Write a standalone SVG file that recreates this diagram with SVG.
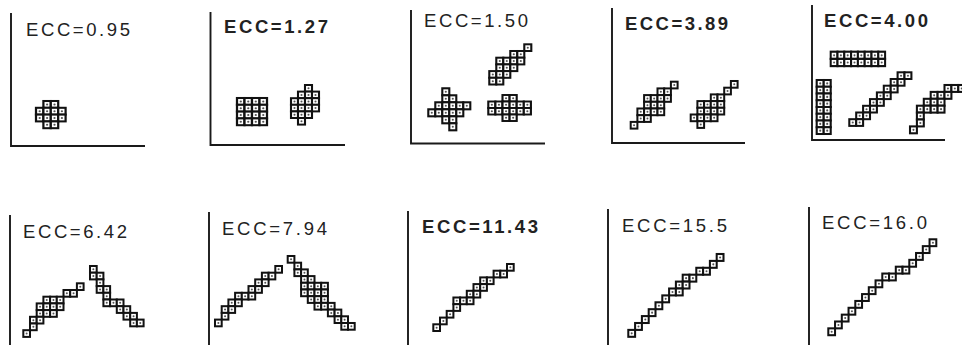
<svg xmlns="http://www.w3.org/2000/svg" xmlns:xlink="http://www.w3.org/1999/xlink" width="962" height="345" viewBox="0 0 962 345">
<style>
.ax{fill:none;stroke:#1a1a1a;stroke-width:1.9}
.lb{font-family:"Liberation Sans",Arial,sans-serif;font-size:18.5px;fill:#222}
.bd{font-weight:bold}
</style>
<defs>
<g id="c"><rect width="1" height="1" fill="#fff" stroke="#111" stroke-width="0.3"/><circle cx=".5" cy=".5" r=".15" fill="#555"/></g>
</defs>
<rect width="962" height="345" fill="#fff"/>

<g id="p1">
<path class="ax" d="M11,13 V146 H145"/>
<text class="lb" x="26" y="36" textLength="104" lengthAdjust="spacing">ECC=0.95</text>
<g transform="translate(36,101) scale(7.4,6.8)">
<use href="#c" x="1" y="0"/><use href="#c" x="2" y="0"/>
<use href="#c" x="0" y="1"/><use href="#c" x="1" y="1"/><use href="#c" x="2" y="1"/><use href="#c" x="3" y="1"/>
<use href="#c" x="0" y="2"/><use href="#c" x="1" y="2"/><use href="#c" x="2" y="2"/><use href="#c" x="3" y="2"/>
<use href="#c" x="1" y="3"/><use href="#c" x="2" y="3"/>
</g>
</g>

<g id="p2">
<path class="ax" d="M210.5,12 V145 H345"/>
<text class="lb bd" x="224" y="33" textLength="104" lengthAdjust="spacing">ECC=1.27</text>
<g transform="translate(237,98) scale(7.5,6.8)">
<use href="#c" x="0" y="0"/><use href="#c" x="1" y="0"/><use href="#c" x="2" y="0"/><use href="#c" x="3" y="0"/>
<use href="#c" x="0" y="1"/><use href="#c" x="1" y="1"/><use href="#c" x="2" y="1"/><use href="#c" x="3" y="1"/>
<use href="#c" x="0" y="2"/><use href="#c" x="1" y="2"/><use href="#c" x="2" y="2"/><use href="#c" x="3" y="2"/>
<use href="#c" x="0" y="3"/><use href="#c" x="1" y="3"/><use href="#c" x="2" y="3"/><use href="#c" x="3" y="3"/>
</g>
<g transform="translate(291,85) scale(7,6.6)">
<use href="#c" x="2" y="0"/>
<use href="#c" x="1" y="1"/><use href="#c" x="2" y="1"/><use href="#c" x="3" y="1"/>
<use href="#c" x="0" y="2"/><use href="#c" x="1" y="2"/><use href="#c" x="2" y="2"/><use href="#c" x="3" y="2"/>
<use href="#c" x="0" y="3"/><use href="#c" x="1" y="3"/><use href="#c" x="2" y="3"/><use href="#c" x="3" y="3"/>
<use href="#c" x="0" y="4"/><use href="#c" x="1" y="4"/><use href="#c" x="2" y="4"/>
<use href="#c" x="1" y="5"/>
</g>
</g>

<g id="p3">
<path class="ax" d="M411,10 V143.5 H545"/>
<text class="lb" x="424" y="27" textLength="104" lengthAdjust="spacing">ECC=1.50</text>
<g transform="translate(428.3,88.3) scale(7)">
<use href="#c" x="2" y="0"/>
<use href="#c" x="2" y="1"/><use href="#c" x="3" y="1"/>
<use href="#c" x="1" y="2"/><use href="#c" x="2" y="2"/><use href="#c" x="3" y="2"/><use href="#c" x="4" y="2"/><use href="#c" x="5" y="2"/>
<use href="#c" x="0" y="3"/><use href="#c" x="1" y="3"/><use href="#c" x="2" y="3"/><use href="#c" x="3" y="3"/><use href="#c" x="4" y="3"/>
<use href="#c" x="2" y="4"/><use href="#c" x="3" y="4"/>
<use href="#c" x="3" y="5"/>
</g>
<g transform="translate(489.3,44.3) scale(7,6.7)">
<use href="#c" x="5" y="0"/>
<use href="#c" x="3" y="1"/><use href="#c" x="4" y="1"/>
<use href="#c" x="1" y="2"/><use href="#c" x="2" y="2"/><use href="#c" x="3" y="2"/><use href="#c" x="4" y="2"/>
<use href="#c" x="1" y="3"/><use href="#c" x="2" y="3"/><use href="#c" x="3" y="3"/>
<use href="#c" x="0" y="4"/><use href="#c" x="1" y="4"/><use href="#c" x="2" y="4"/>
<use href="#c" x="0" y="5"/><use href="#c" x="1" y="5"/>
</g>
<g transform="translate(488.3,95) scale(7.1,6.5)">
<use href="#c" x="2" y="0"/><use href="#c" x="3" y="0"/>
<use href="#c" x="0" y="1"/><use href="#c" x="1" y="1"/><use href="#c" x="2" y="1"/><use href="#c" x="3" y="1"/><use href="#c" x="4" y="1"/><use href="#c" x="5" y="1"/>
<use href="#c" x="0" y="2"/><use href="#c" x="1" y="2"/><use href="#c" x="2" y="2"/><use href="#c" x="3" y="2"/><use href="#c" x="4" y="2"/><use href="#c" x="5" y="2"/>
<use href="#c" x="2" y="3"/><use href="#c" x="3" y="3"/>
</g>
</g>

<g id="p4">
<path class="ax" d="M612,8 V143 H745"/>
<text class="lb bd" x="625" y="30" textLength="103" lengthAdjust="spacing">ECC=3.89</text>
<g transform="translate(630.7,81.7) scale(6.7)">
<use href="#c" x="6" y="0"/>
<use href="#c" x="4" y="1"/><use href="#c" x="5" y="1"/>
<use href="#c" x="2" y="2"/><use href="#c" x="3" y="2"/><use href="#c" x="4" y="2"/><use href="#c" x="5" y="2"/>
<use href="#c" x="2" y="3"/><use href="#c" x="3" y="3"/><use href="#c" x="4" y="3"/>
<use href="#c" x="1" y="4"/><use href="#c" x="2" y="4"/><use href="#c" x="3" y="4"/><use href="#c" x="4" y="4"/>
<use href="#c" x="1" y="5"/><use href="#c" x="2" y="5"/>
<use href="#c" x="0" y="6"/>
</g>
<g transform="translate(690.7,81) scale(6.7)">
<use href="#c" x="6" y="0"/>
<use href="#c" x="5" y="1"/>
<use href="#c" x="3" y="2"/><use href="#c" x="4" y="2"/>
<use href="#c" x="1" y="3"/><use href="#c" x="2" y="3"/><use href="#c" x="3" y="3"/><use href="#c" x="4" y="3"/>
<use href="#c" x="1" y="4"/><use href="#c" x="2" y="4"/><use href="#c" x="3" y="4"/><use href="#c" x="4" y="4"/>
<use href="#c" x="0" y="5"/><use href="#c" x="1" y="5"/><use href="#c" x="2" y="5"/><use href="#c" x="3" y="5"/>
<use href="#c" x="1" y="6"/>
</g>
</g>

<g id="p5">
<path class="ax" d="M812,5 V140 H945"/>
<text class="lb bd" x="824" y="27" textLength="104" lengthAdjust="spacing">ECC=4.00</text>
<g transform="translate(830.7,51.7) scale(6.8,7.2)">
<use href="#c" x="0" y="0"/><use href="#c" x="1" y="0"/><use href="#c" x="2" y="0"/><use href="#c" x="3" y="0"/><use href="#c" x="4" y="0"/><use href="#c" x="5" y="0"/><use href="#c" x="6" y="0"/><use href="#c" x="7" y="0"/>
<use href="#c" x="0" y="1"/><use href="#c" x="1" y="1"/><use href="#c" x="2" y="1"/><use href="#c" x="3" y="1"/><use href="#c" x="4" y="1"/><use href="#c" x="5" y="1"/><use href="#c" x="6" y="1"/><use href="#c" x="7" y="1"/>
</g>
<g transform="translate(816.7,80) scale(7,6.75)">
<use href="#c" x="0" y="0"/><use href="#c" x="1" y="0"/>
<use href="#c" x="0" y="1"/><use href="#c" x="1" y="1"/>
<use href="#c" x="0" y="2"/><use href="#c" x="1" y="2"/>
<use href="#c" x="0" y="3"/><use href="#c" x="1" y="3"/>
<use href="#c" x="0" y="4"/><use href="#c" x="1" y="4"/>
<use href="#c" x="0" y="5"/><use href="#c" x="1" y="5"/>
<use href="#c" x="0" y="6"/><use href="#c" x="1" y="6"/>
<use href="#c" x="0" y="7"/><use href="#c" x="1" y="7"/>
</g>
<g transform="translate(849.3,72.3) scale(6.9,6.7)">
<use href="#c" x="7" y="0"/><use href="#c" x="8" y="0"/>
<use href="#c" x="6" y="1"/><use href="#c" x="7" y="1"/>
<use href="#c" x="5" y="2"/><use href="#c" x="6" y="2"/>
<use href="#c" x="4" y="3"/><use href="#c" x="5" y="3"/>
<use href="#c" x="3" y="4"/><use href="#c" x="4" y="4"/>
<use href="#c" x="2" y="5"/><use href="#c" x="3" y="5"/>
<use href="#c" x="1" y="6"/><use href="#c" x="2" y="6"/>
<use href="#c" x="0" y="7"/><use href="#c" x="1" y="7"/>
</g>
<g transform="translate(910,85) scale(6.9)">
<use href="#c" x="5" y="0"/><use href="#c" x="6" y="0"/><use href="#c" x="7" y="0"/>
<use href="#c" x="3" y="1"/><use href="#c" x="4" y="1"/><use href="#c" x="5" y="1"/>
<use href="#c" x="2" y="2"/><use href="#c" x="3" y="2"/><use href="#c" x="4" y="2"/>
<use href="#c" x="1" y="3"/><use href="#c" x="2" y="3"/><use href="#c" x="3" y="3"/><use href="#c" x="4" y="3"/>
<use href="#c" x="1" y="4"/>
<use href="#c" x="1" y="5"/>
<use href="#c" x="0" y="6"/>
</g>
</g>

<g id="p6">
<path class="ax" d="M10,215 V345"/>
<text class="lb" x="23" y="238" textLength="104" lengthAdjust="spacing">ECC=6.42</text>
<g transform="translate(23.3,283.3) scale(6.7)">
<use href="#c" x="8" y="0"/>
<use href="#c" x="6" y="1"/><use href="#c" x="7" y="1"/>
<use href="#c" x="3" y="2"/><use href="#c" x="4" y="2"/><use href="#c" x="5" y="2"/>
<use href="#c" x="2" y="3"/><use href="#c" x="3" y="3"/><use href="#c" x="4" y="3"/><use href="#c" x="5" y="3"/>
<use href="#c" x="2" y="4"/><use href="#c" x="3" y="4"/><use href="#c" x="4" y="4"/>
<use href="#c" x="1" y="5"/><use href="#c" x="2" y="5"/>
<use href="#c" x="1" y="6"/>
<use href="#c" x="0" y="7"/>
</g>
<g transform="translate(90,266) scale(6.7)">
<use href="#c" x="0" y="0"/>
<use href="#c" x="0" y="1"/><use href="#c" x="1" y="1"/>
<use href="#c" x="1" y="2"/>
<use href="#c" x="1" y="3"/><use href="#c" x="2" y="3"/>
<use href="#c" x="2" y="4"/>
<use href="#c" x="2" y="5"/><use href="#c" x="3" y="5"/><use href="#c" x="4" y="5"/>
<use href="#c" x="4" y="6"/><use href="#c" x="5" y="6"/>
<use href="#c" x="5" y="7"/><use href="#c" x="6" y="7"/>
<use href="#c" x="6" y="8"/><use href="#c" x="7" y="8"/>
</g>
</g>

<g id="p7">
<path class="ax" d="M209,212 V345"/>
<text class="lb" x="222" y="235" textLength="105" lengthAdjust="spacing">ECC=7.94</text>
<g transform="translate(215,266) scale(6.7)">
<use href="#c" x="9" y="0"/>
<use href="#c" x="7" y="1"/><use href="#c" x="8" y="1"/>
<use href="#c" x="6" y="2"/><use href="#c" x="7" y="2"/>
<use href="#c" x="5" y="3"/><use href="#c" x="6" y="3"/>
<use href="#c" x="3" y="4"/><use href="#c" x="4" y="4"/><use href="#c" x="5" y="4"/>
<use href="#c" x="2" y="5"/><use href="#c" x="3" y="5"/>
<use href="#c" x="1" y="6"/><use href="#c" x="2" y="6"/>
<use href="#c" x="1" y="7"/>
<use href="#c" x="0" y="8"/>
</g>
<g transform="translate(287.7,256) scale(6.7)">
<use href="#c" x="0" y="0"/>
<use href="#c" x="1" y="1"/>
<use href="#c" x="1" y="2"/><use href="#c" x="2" y="2"/>
<use href="#c" x="2" y="3"/><use href="#c" x="3" y="3"/>
<use href="#c" x="2" y="4"/><use href="#c" x="3" y="4"/><use href="#c" x="4" y="4"/><use href="#c" x="5" y="4"/>
<use href="#c" x="2" y="5"/><use href="#c" x="3" y="5"/><use href="#c" x="4" y="5"/><use href="#c" x="5" y="5"/>
<use href="#c" x="3" y="6"/><use href="#c" x="4" y="6"/><use href="#c" x="5" y="6"/>
<use href="#c" x="4" y="7"/><use href="#c" x="5" y="7"/><use href="#c" x="6" y="7"/>
<use href="#c" x="6" y="8"/><use href="#c" x="7" y="8"/>
<use href="#c" x="7" y="9"/><use href="#c" x="8" y="9"/>
<use href="#c" x="8" y="10"/><use href="#c" x="9" y="10"/>
</g>
</g>

<g id="p8">
<path class="ax" d="M408,211 V345"/>
<text class="lb bd" x="422" y="233" textLength="116" lengthAdjust="spacing">ECC=11.43</text>
<g transform="translate(433.3,264) scale(6.7)">
<use href="#c" x="11" y="0"/>
<use href="#c" x="9" y="1"/><use href="#c" x="10" y="1"/>
<use href="#c" x="7" y="2"/><use href="#c" x="8" y="2"/>
<use href="#c" x="6" y="3"/><use href="#c" x="7" y="3"/>
<use href="#c" x="5" y="4"/><use href="#c" x="6" y="4"/>
<use href="#c" x="3" y="5"/><use href="#c" x="4" y="5"/><use href="#c" x="5" y="5"/>
<use href="#c" x="3" y="6"/>
<use href="#c" x="2" y="7"/>
<use href="#c" x="1" y="8"/>
<use href="#c" x="0" y="9"/>
</g>
</g>

<g id="p9">
<path class="ax" d="M608,209 V345"/>
<text class="lb" x="622" y="232" textLength="105" lengthAdjust="spacing">ECC=15.5</text>
<g transform="translate(628.3,254) scale(6.8,6.9)">
<use href="#c" x="13" y="0"/>
<use href="#c" x="12" y="1"/>
<use href="#c" x="10" y="2"/><use href="#c" x="11" y="2"/>
<use href="#c" x="8" y="3"/><use href="#c" x="9" y="3"/>
<use href="#c" x="7" y="4"/><use href="#c" x="8" y="4"/>
<use href="#c" x="6" y="5"/><use href="#c" x="7" y="5"/>
<use href="#c" x="5" y="6"/>
<use href="#c" x="4" y="7"/>
<use href="#c" x="3" y="8"/>
<use href="#c" x="2" y="9"/>
<use href="#c" x="1" y="10"/>
<use href="#c" x="0" y="11"/>
</g>
</g>

<g id="p10">
<path class="ax" d="M809,207 V345"/>
<text class="lb" x="822" y="229" textLength="105" lengthAdjust="spacing">ECC=16.0</text>
<g transform="translate(828.3,239.3) scale(6.75,6.85)">
<use href="#c" x="15" y="0"/>
<use href="#c" x="14" y="1"/>
<use href="#c" x="13" y="2"/>
<use href="#c" x="12" y="3"/>
<use href="#c" x="10" y="4"/><use href="#c" x="11" y="4"/>
<use href="#c" x="8" y="5"/><use href="#c" x="9" y="5"/>
<use href="#c" x="7" y="6"/>
<use href="#c" x="6" y="7"/>
<use href="#c" x="5" y="8"/>
<use href="#c" x="4" y="9"/>
<use href="#c" x="3" y="10"/>
<use href="#c" x="2" y="11"/>
<use href="#c" x="1" y="12"/>
<use href="#c" x="0" y="13"/>
</g>
</g>
</svg>
